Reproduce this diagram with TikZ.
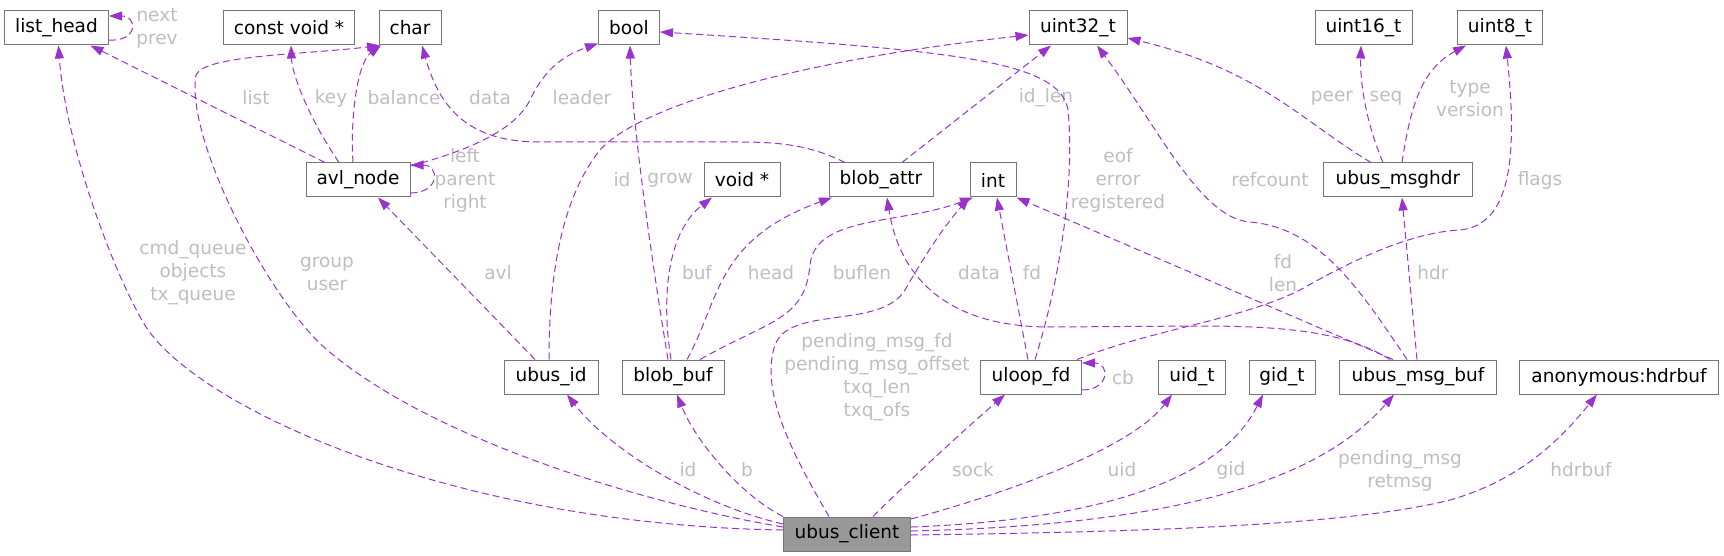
\documentclass[tikz,border=0pt]{standalone}
\usepackage{fontspec}
\setmainfont{DejaVu Sans}
\usetikzlibrary{arrows.meta}

\definecolor{edgecol}{HTML}{9A32CD}
\definecolor{labelcol}{HTML}{BEBEBE}
\definecolor{boxcol}{HTML}{767676}
\definecolor{mainfill}{HTML}{999999}

\tikzset{
  box/.style={draw=boxcol, fill=white, line width=1pt, minimum height=34pt, inner sep=0pt,
    font=\fontsize{18.5}{23}\selectfont},
  member/.style={draw=edgecol, line width=1pt, dash pattern=on 7pt off 4pt,
    -{Triangle[length=13pt,width=9pt]}},
  lbl/.style={text=labelcol, inner sep=0pt, align=center, font=\fontsize{18.5}{23}\selectfont},
}

\begin{document}
\begin{tikzpicture}[x=1pt,y=-1pt]
  \useasboundingbox (0,0) rectangle (1724,556);

  % types
  \node[box, minimum width=104pt] (listhead) at (56.5,28) {list\_head};
  \node[box, minimum width=131pt] (constvoid) at (289,28) {const void *};
  \node[box, minimum width=62pt] (char) at (410,28) {char};
  \node[box, minimum width=61pt] (bool) at (629,28) {bool};
  \node[box, minimum width=98pt] (uint32) at (1078,28) {uint32\_t};
  \node[box, minimum width=97pt] (uint16) at (1363.5,28) {uint16\_t};
  \node[box, minimum width=85pt] (uint8) at (1500,28) {uint8\_t};

  \node[box, minimum width=104pt] (avlnode) at (358,180) {avl\_node};
  \node[box, minimum width=76pt] (voidp) at (742,180) {void *};
  \node[box, minimum width=104pt] (blobattr) at (881,180) {blob\_attr};
  \node[box, minimum width=46pt] (inttype) at (993,180) {int};
  \node[box, minimum width=149pt] (msghdr) at (1398,180) {ubus\_msghdr};

  \node[box, minimum width=94pt] (ubusid) at (551,377) {ubus\_id};
  \node[box, minimum width=102pt] (blobbuf) at (673,377) {blob\_buf};
  \node[box, minimum width=101pt] (uloopfd) at (1031,377) {uloop\_fd};
  \node[box, minimum width=67pt] (uidt) at (1192,377) {uid\_t};
  \node[box, minimum width=66pt] (gidt) at (1282,377) {gid\_t};
  \node[box, minimum width=157pt] (msgbuf) at (1418,377) {ubus\_msg\_buf};
  \node[box, minimum width=199pt] (hdrbuf) at (1619,377) {anonymous:hdrbuf};

  \node[box, fill=mainfill, minimum width=127pt] (client) at (847,534) {ubus\_client};

  % list_head
  \draw[member] ([yshift=-12pt]listhead.east) .. controls (138,42) and (138,16) .. ([yshift=12pt]listhead.east);
  \node[lbl] (lnext) at (157,28.5) {next\\prev};

  % avl_node
  \draw[member] ([xshift=-33pt]avlnode.north) -- ([xshift=34pt]listhead.south);
  \node[lbl] (llist) at (256,98) {list};
  \draw[member] ([xshift=-19pt]avlnode.north) .. controls (310,120) and (292,75) .. ([xshift=2pt]constvoid.south);
  \node[lbl] (lkey) at (331,98) {key};
  \draw[member] ([xshift=-5pt]avlnode.north) .. controls (350,115) and (358,62) .. ([xshift=-29pt]char.south);
  \node[lbl] (lbalance) at (404,98) {balance};
  \draw[member] ([yshift=-13pt]avlnode.east) .. controls (440,193) and (440,165) .. ([yshift=15pt]avlnode.east);
  \node[lbl] (lleft) at (465,180) {left\\parent\\right};
  \draw[member] ([yshift=14pt]avlnode.east) .. controls (470,150) and (515,130) .. (530,100)
    .. controls (545,68) and (565,55) .. ([yshift=2pt]bool.south west);
  \node[lbl] (lleader) at (582,98) {leader};

  % blob_attr
  \draw[member] ([xshift=-36pt]blobattr.north) .. controls (815,148) and (790,142) .. (740,142) -- (540,142)
    .. controls (470,142) and (440,110) .. ([xshift=12pt]char.south);
  \node[lbl] (ldata) at (490,98) {data};
  \draw[member] ([xshift=21pt]blobattr.north) -- ([xshift=-27pt]uint32.south);
  \node[lbl] (lidlen) at (1046,98) {id\_len};

  % ubus_id
  \draw[member] ([xshift=-16pt]ubusid.north) -- ([xshift=20pt]avlnode.south);
  \node[lbl] (lavl) at (498,273) {avl};
  \draw[member] ([xshift=-2pt]ubusid.north) .. controls (549,280) and (560,200) .. (600,150)
    .. controls (640,105) and (800,60) .. ([yshift=-7pt]uint32.west);
  \node[lbl] (lid) at (622,180) {id};

  % blob_buf
  \draw[member] ([xshift=-5pt]blobbuf.north) .. controls (650,250) and (632,120) .. ([xshift=1pt]bool.south);
  \node[lbl] (lgrow) at (670,180) {grow};
  \draw[member] ([xshift=-2pt]blobbuf.north) .. controls (660,290) and (670,230) .. ([xshift=-30pt]voidp.south);
  \node[lbl] (lbuf) at (697,273) {buf};
  \draw[member] ([xshift=14pt]blobbuf.north) .. controls (720,300) and (715,240) .. ([xshift=-49pt]blobattr.south);
  \node[lbl] (lhead) at (771,273) {head};
  \draw[member] ([xshift=27pt]blobbuf.north) .. controls (770,320) and (805,320) .. (810,265)
    .. controls (815,215) and (900,225) .. ([xshift=-20pt]inttype.south);
  \node[lbl] (lbuflen) at (862,273) {buflen};

  % uloop_fd
  \draw[member] ([xshift=-3pt]uloopfd.north) -- ([xshift=4pt]inttype.south);
  \node[lbl] (lfd) at (1032,273) {fd};
  \draw[member] ([xshift=4pt]uloopfd.north) .. controls (1060,280) and (1075,180) .. (1068,110)
    .. controls (1060,60) and (950,50) .. ([yshift=-4pt]bool.east);
  \node[lbl] (leof) at (1118,180) {eof\\error\\registered};
  \draw[member] ([xshift=46pt]uloopfd.north) .. controls (1150,330) and (1240,320) .. (1300,290)
    .. controls (1370,250) and (1420,232) .. (1460,230)
    .. controls (1510,225) and (1518,160) .. ([xshift=6pt]uint8.south);
  \node[lbl] (lflags) at (1540,180) {flags};
  \draw[member] ([yshift=-13pt]uloopfd.east) .. controls (1110,390) and (1110,363) .. ([yshift=14pt]uloopfd.east);
  \node[lbl] (lcb) at (1123,378) {cb};

  % ubus_msghdr
  \draw[member] ([xshift=-27pt]msghdr.north) .. controls (1300,120) and (1260,70) .. ([yshift=-10pt]uint32.east);
  \node[lbl] (lpeer) at (1332,98) {peer};
  \draw[member] ([xshift=-15pt]msghdr.north) .. controls (1365,120) and (1360,80) .. ([xshift=-2.5pt]uint16.south);
  \node[lbl] (lseq) at (1386,98) {seq};
  \draw[member] ([xshift=4pt]msghdr.north) .. controls (1410,110) and (1420,70) .. ([xshift=-34pt]uint8.south);
  \node[lbl] (ltype) at (1470,98.5) {type\\version};

  % ubus_msg_buf
  \draw[member] ([xshift=-28pt]msgbuf.north) .. controls (1350,335) and (1300,326) .. (1200,326) -- (1050,327)
    .. controls (950,327) and (900,280) .. ([xshift=6pt]blobattr.south);
  \node[lbl] (ldata2) at (979,273) {data};
  \draw[member] ([xshift=-25pt]msgbuf.north) -- (inttype.south east);
  \node[lbl] (lfdlen) at (1283,273.5) {fd\\len};
  \draw[member] ([xshift=-11pt]msgbuf.north) .. controls (1360,290) and (1320,228) .. (1250,222)
    .. controls (1200,218) and (1160,130) .. ([xshift=19pt]uint32.south);
  \node[lbl] (lrefcount) at (1270,180) {refcount};
  \draw[member] ([xshift=-1pt]msgbuf.north) -- ([xshift=4pt]msghdr.south);
  \node[lbl] (lhdr) at (1433,273) {hdr};

  % ubus_client
  \draw[member] ([yshift=4pt]client.west) .. controls (450,525) and (190,405) .. (143,322)
    .. controls (110,265) and (65,140) .. ([xshift=2pt]listhead.south);
  \node[lbl] (lcmd) at (193,273) {cmd\_queue\\objects\\tx\_queue};
  \draw[member] ([yshift=7pt]client.west) .. controls (650,505) and (430,440) .. (325,348)
    .. controls (270,300) and (185,140) .. (196,75)
    .. controls (205,55) and (300,55) .. ([xshift=-30pt]char.south);
  \node[lbl] (lgroup) at (327,273.5) {group\\user};
  \draw[member] ([yshift=10pt]client.west) .. controls (700,505) and (610,450) .. ([xshift=16pt]ubusid.south);
  \node[lbl] (lid2) at (688,470) {id};
  \draw[member] (client.north west) .. controls (740,495) and (695,440) .. ([xshift=4pt]blobbuf.south);
  \node[lbl] (lb) at (747,470) {b};
  \draw[member] ([xshift=-18pt]client.north) .. controls (790,450) and (760,390) .. (775,345)
    .. controls (790,305) and (880,330) .. (905,290)
    .. controls (925,255) and (945,225) .. (inttype.south west);
  \node[lbl] (lpending) at (877,377.5) {pending\_msg\_fd\\pending\_msg\_offset\\txq\_len\\txq\_ofs};
  \draw[member] ([xshift=26pt]client.north) .. controls (920,470) and (970,425) .. ([xshift=-26pt]uloopfd.south);
  \node[lbl] (lsock) at (973,470) {sock};
  \draw[member] ([yshift=15pt]client.east) .. controls (1000,495) and (1130,450) .. ([xshift=-20pt]uidt.south);
  \node[lbl] (luid) at (1122,470) {uid};
  \draw[member] ([yshift=7pt]client.east) .. controls (1100,520) and (1220,480) .. ([xshift=-19pt]gidt.south);
  \node[lbl] (lgid) at (1231,470) {gid};
  \draw[member] ([yshift=3pt]client.east) .. controls (1180,525) and (1320,480) .. ([xshift=-24pt]msgbuf.south);
  \node[lbl] (lpendmsg) at (1400,471) {pending\_msg\\retmsg};
  \draw[member] ([yshift=-1pt]client.east) .. controls (1150,532) and (1350,525) .. (1450,500)
    .. controls (1520,480) and (1560,440) .. ([xshift=-22pt]hdrbuf.south);
  \node[lbl] (lhdrbuf) at (1581,470) {hdrbuf};
\end{tikzpicture}
\end{document}
